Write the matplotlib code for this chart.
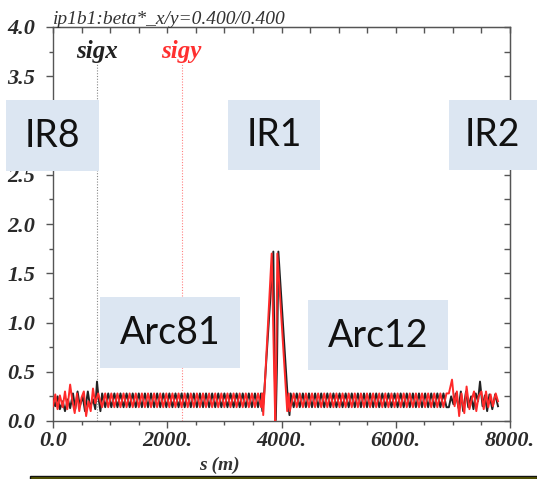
import matplotlib
matplotlib.use("Agg")
import matplotlib.pyplot as plt
from matplotlib.patches import Rectangle
from matplotlib.ticker import MultipleLocator, FixedLocator

# ---------------- data ----------------
title = "ip1b1:beta*_x/y=0.400/0.400"
x_label = "s (m)"
x_ticks = [0, 2000, 4000, 6000, 8000]
x_tick_labels = ["0.0", "2000.", "4000.", "6000.", "8000."]
y_ticks = [0.0, 0.5, 1.0, 1.5, 2.0, 2.5, 3.0, 3.5, 4.0]
y_tick_labels = ["0.0", "0.5", "1.0", "1.5", "2.0", "2.5", "3.0", "3.5", "4.0"]

# IR8 region
s_ir8_x = [0, 40, 80, 120, 170, 210, 260, 300, 350, 390, 430, 470, 520, 560, 610, 650, 700, 740, 770, 800, 830]
b_ir8_x = [0.22, 0.15, 0.25, 0.12, 0.20, 0.10, 0.22, 0.13, 0.28, 0.12, 0.30, 0.15, 0.25, 0.10, 0.30, 0.14, 0.22, 0.12, 0.40, 0.22, 0.10]
s_ir8_y = [0, 40, 80, 120, 170, 210, 250, 300, 340, 380, 420, 460, 500, 540, 580, 620, 660, 700, 740, 790, 830]
b_ir8_y = [0.15, 0.27, 0.12, 0.26, 0.14, 0.30, 0.12, 0.37, 0.20, 0.08, 0.28, 0.10, 0.24, 0.30, 0.05, 0.20, 0.10, 0.33, 0.18, 0.28, 0.20]

# Arc 81
s_arc81 = [860, 914, 967, 1021, 1074, 1128, 1181, 1235, 1288, 1342, 1395, 1449, 1502, 1556, 1609,
           1663, 1716, 1770, 1823, 1877, 1930, 1984, 2037, 2091, 2144, 2198, 2251, 2305, 2358, 2412,
           2465, 2519, 2572, 2626, 2679, 2733, 2786, 2840, 2893, 2947, 3000, 3054, 3107, 3161, 3214,
           3268, 3321, 3375, 3428, 3482, 3535, 3589, 3642]
b_arc81_x = [0.28, 0.14, 0.28, 0.14, 0.28, 0.14, 0.28, 0.14, 0.28, 0.14, 0.28, 0.14, 0.28, 0.14, 0.28,
             0.14, 0.28, 0.14, 0.28, 0.14, 0.28, 0.14, 0.28, 0.14, 0.28, 0.14, 0.28, 0.14, 0.28, 0.14,
             0.28, 0.14, 0.28, 0.14, 0.28, 0.14, 0.28, 0.14, 0.28, 0.14, 0.28, 0.14, 0.28, 0.14, 0.28,
             0.14, 0.28, 0.14, 0.28, 0.14, 0.28, 0.14, 0.28]
b_arc81_y = [0.14, 0.28, 0.14, 0.28, 0.14, 0.28, 0.14, 0.28, 0.14, 0.28, 0.14, 0.28, 0.14, 0.28, 0.14,
             0.28, 0.14, 0.28, 0.14, 0.28, 0.14, 0.28, 0.14, 0.28, 0.14, 0.28, 0.14, 0.28, 0.14, 0.28,
             0.14, 0.28, 0.14, 0.28, 0.14, 0.28, 0.14, 0.28, 0.14, 0.28, 0.14, 0.28, 0.14, 0.28, 0.14,
             0.28, 0.14, 0.28, 0.14, 0.28, 0.14, 0.28, 0.14]

# IR1
s_ir1_x = [3665, 3690, 3857, 3878, 3900, 3922, 3945, 4110, 4140]
b_ir1_x = [0.10, 0.22, 1.72, 0.60, 0.01, 0.60, 1.72, 0.22, 0.06]
s_ir1_y = [3665, 3680, 3828, 3860, 3890, 3905, 3927, 4100, 4125, 4145]
b_ir1_y = [0.28, 0.06, 1.70, 0.80, 0.00, 0.50, 1.70, 0.10, 0.28, 0.10]

# Arc 12
s_arc12 = [4160, 4213, 4267, 4320, 4374, 4427, 4481, 4534, 4588, 4641, 4695, 4748, 4802, 4855, 4909,
           4962, 5016, 5069, 5123, 5176, 5230, 5283, 5337, 5390, 5444, 5497, 5551, 5604, 5658, 5711,
           5765, 5818, 5872, 5925, 5979, 6032, 6086, 6139, 6193, 6246, 6300, 6353, 6407, 6460, 6514,
           6567, 6621, 6674, 6728, 6781, 6835, 6888]
b_arc12_x = [0.28, 0.14, 0.28, 0.14, 0.28, 0.14, 0.28, 0.14, 0.28, 0.14, 0.28, 0.14, 0.28, 0.14, 0.28,
             0.14, 0.28, 0.14, 0.28, 0.14, 0.28, 0.14, 0.28, 0.14, 0.28, 0.14, 0.28, 0.14, 0.28, 0.14,
             0.28, 0.14, 0.28, 0.14, 0.28, 0.14, 0.28, 0.14, 0.28, 0.14, 0.28, 0.14, 0.28, 0.14, 0.28,
             0.14, 0.28, 0.14, 0.28, 0.14, 0.28, 0.14]
b_arc12_y = [0.14, 0.28, 0.14, 0.28, 0.14, 0.28, 0.14, 0.28, 0.14, 0.28, 0.14, 0.28, 0.14, 0.28, 0.14,
             0.28, 0.14, 0.28, 0.14, 0.28, 0.14, 0.28, 0.14, 0.28, 0.14, 0.28, 0.14, 0.28, 0.14, 0.28,
             0.14, 0.28, 0.14, 0.28, 0.14, 0.28, 0.14, 0.28, 0.14, 0.28, 0.14, 0.28, 0.14, 0.28, 0.14,
             0.28, 0.14, 0.28, 0.14, 0.28, 0.14, 0.28]

# IR2 region
s_ir2_x = [6930, 6970, 7010, 7050, 7100, 7140, 7180, 7230, 7270, 7320, 7360, 7400, 7440, 7475, 7520, 7560, 7600, 7640, 7690, 7740, 7790]
b_ir2_x = [0.14, 0.25, 0.17, 0.28, 0.13, 0.30, 0.10, 0.30, 0.14, 0.25, 0.12, 0.28, 0.20, 0.40, 0.15, 0.26, 0.10, 0.27, 0.12, 0.27, 0.15]
s_ir2_y = [6930, 6985, 7030, 7070, 7110, 7150, 7200, 7240, 7290, 7330, 7370, 7410, 7450, 7500, 7540, 7580, 7620, 7660, 7700, 7750, 7790]
b_ir2_y = [0.28, 0.42, 0.15, 0.30, 0.05, 0.28, 0.08, 0.35, 0.12, 0.22, 0.30, 0.10, 0.25, 0.30, 0.12, 0.30, 0.14, 0.27, 0.15, 0.28, 0.20]

# marker lines
sigx_s = 765
sigy_s = 2253
marker_top = 3.62

# region labels
region_labels = ["IR8", "IR1", "IR2", "Arc81", "Arc12"]

# ---------------- figure ----------------
W, H = 537, 479
fig = plt.figure(figsize=(W / 100, H / 100), dpi=100)

def fx(px):
    return px / W

def fy(py):
    return 1 - py / H

ax = fig.add_axes([fx(53), fy(421), fx(510) - fx(53), fy(27) - fy(421)])

sx = s_ir8_x + s_arc81 + s_ir1_x + s_arc12 + s_ir2_x
bx = b_ir8_x + b_arc81_x + b_ir1_x + b_arc12_x + b_ir2_x
sy = s_ir8_y + s_arc81 + s_ir1_y + s_arc12 + s_ir2_y
by = b_ir8_y + b_arc81_y + b_ir1_y + b_arc12_y + b_ir2_y

ax.plot(sx, bx, color="#222222", lw=1.4, zorder=3)
ax.plot(sy, by, color="#ff2a2a", lw=1.4, zorder=4)

ax.vlines(sigx_s, 0, marker_top, colors="#888888", linestyles=(0, (1, 1.5)), lw=0.8, zorder=2)
ax.vlines(sigy_s, 0, marker_top, colors="#ff8080", linestyles=(0, (1, 1.5)), lw=0.8, zorder=2)

serif = "Liberation Serif"
ax.text(sigx_s, 3.75, "sigx", ha="center", va="center", fontsize=18, style="italic",
        family=serif, color="#222222", fontweight="bold")
ax.text(sigy_s, 3.75, "sigy", ha="center", va="center", fontsize=18, style="italic",
        family=serif, color="#ff3030", fontweight="bold")

ax.set_xlim(0, 8000)
ax.set_ylim(0, 4.0)
ax.xaxis.set_major_locator(FixedLocator(x_ticks))
ax.set_xticklabels(x_tick_labels)
ax.xaxis.set_minor_locator(MultipleLocator(500))
ax.yaxis.set_major_locator(FixedLocator(y_ticks))
ax.set_yticklabels(y_tick_labels)
ax.yaxis.set_minor_locator(MultipleLocator(0.25))

for sp in ax.spines.values():
    sp.set_color("#555555")
    sp.set_linewidth(1.0)

ax.tick_params(axis="both", which="major", direction="out", length=5, width=1, color="#555555",
               labelsize=16)
ax.tick_params(axis="x", which="major", pad=2)
ax.tick_params(axis="y", which="major", pad=8)
ax.tick_params(axis="both", which="minor", direction="out", length=3, width=1, color="#555555")
for lab in ax.get_xticklabels() + ax.get_yticklabels():
    lab.set_family(serif)
    lab.set_style("italic")
    lab.set_color("#2a2a2a")
    lab.set_fontweight("bold")

# inward ticks on top and right
top = ax.secondary_xaxis("top")
top.xaxis.set_major_locator(MultipleLocator(500))
top.tick_params(direction="in", length=4, width=1, color="#555555", labeltop=False)
top.spines["top"].set_color("#555555")
right = ax.secondary_yaxis("right")
right.yaxis.set_major_locator(MultipleLocator(0.25))
right.tick_params(direction="in", length=4, width=1, color="#555555", labelright=False)
right.spines["right"].set_color("#555555")

fig.text(fx(53), fy(24), title, ha="left", va="baseline", fontsize=14, style="italic",
         family=serif, color="#333333")
fig.text(fx(219), fy(465), x_label, ha="center", va="center", fontsize=14, style="italic",
         family=serif, color="#333333", fontweight="bold")

# region boxes
box_color = "#dce6f2"
boxes = [
    (6, 100, 99, 171),
    (228, 100, 320, 170),
    (449, 100, 537, 170),
    (100, 297, 240, 368),
    (308, 300, 448, 370),
]
centers = [(52, 136), (274, 135), (492, 135), (170, 333), (378, 336)]
for (x0, y0, x1, y1), (cx, cy), lab in zip(boxes, centers, region_labels):
    fig.patches.append(Rectangle((fx(x0), fy(y1)), fx(x1) - fx(x0), fy(y0) - fy(y1),
                                 transform=fig.transFigure, facecolor=box_color,
                                 edgecolor="none", zorder=10))
    fig.text(fx(cx), fy(cy), lab, ha="center", va="center", fontsize=27, family="Lato",
             color="#111111", zorder=11)

# bottom stripe
fig.patches.append(Rectangle((fx(30), 0), 1 - fx(30), 3.5 / H, transform=fig.transFigure,
                             facecolor="#5c5c00", edgecolor="#111111", lw=1, zorder=10))

fig.savefig("out.png", dpi=100)
